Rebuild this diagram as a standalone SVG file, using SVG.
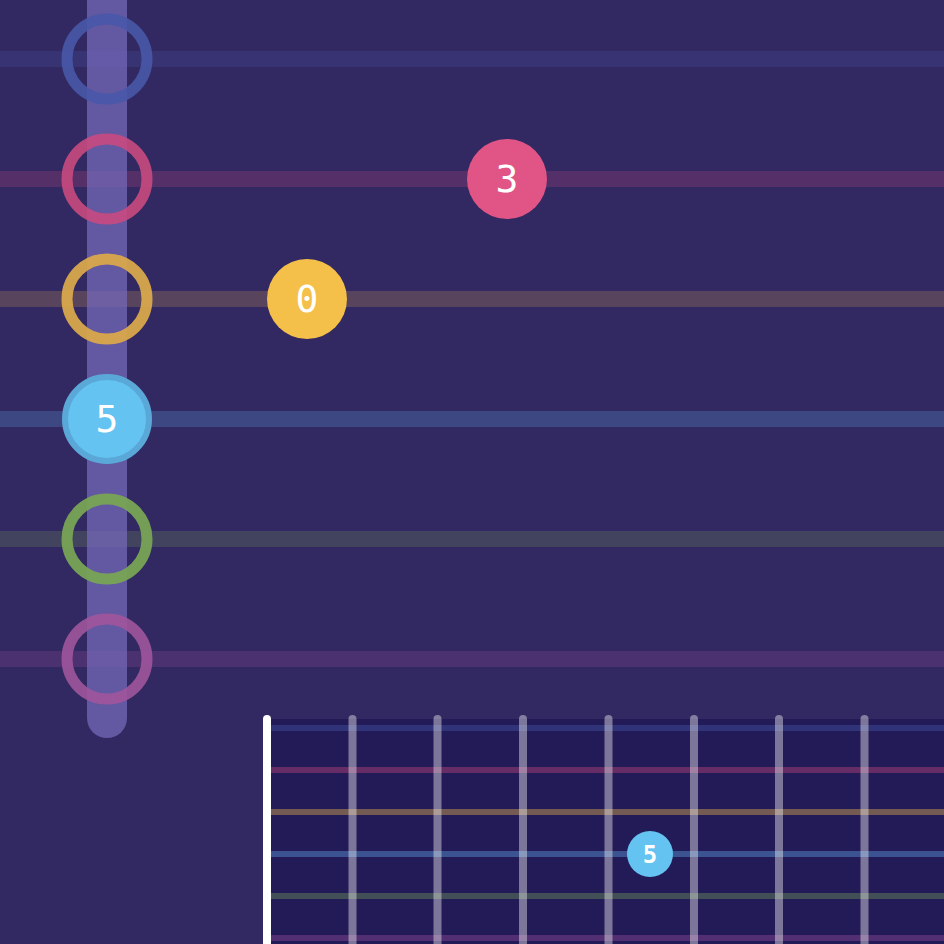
<svg xmlns="http://www.w3.org/2000/svg" width="944" height="944" viewBox="0 0 944 944">
<style>
.str{stroke-width:16;opacity:0.22}
.fstr{stroke-width:6;opacity:0.38}
.ring{fill:none;stroke-width:11}
.fret{stroke:#ffffff;stroke-opacity:0.4;stroke-width:8;stroke-linecap:round}
.lbl{font-family:"DejaVu Sans Mono","Liberation Mono",monospace;fill:#ffffff;text-anchor:middle;dominant-baseline:central}
</style>
<rect width="944" height="944" fill="#332962"/>
<g id="strings">
<line class="str" x1="0" y1="59" x2="944" y2="59" stroke="#4a5ab0"/>
<line class="str" x1="0" y1="179" x2="944" y2="179" stroke="#d04a80"/>
<line class="str" x1="0" y1="299" x2="944" y2="299" stroke="#f5c04a" style="opacity:0.19"/>
<line class="str" x1="0" y1="419" x2="944" y2="419" stroke="#64b0f0"/>
<line class="str" x1="0" y1="539" x2="944" y2="539" stroke="#78a455"/>
<line class="str" x1="0" y1="659" x2="944" y2="659" stroke="#a050a0"/>
</g>
<rect id="bar" x="87" y="-20" width="40" height="758" rx="20" fill="#7468b8" opacity="0.75"/>
<g id="ring-1"><circle class="ring" cx="107" cy="59" r="40" stroke="#4858a8" stroke-opacity="0.9"/></g>
<g id="ring-2"><circle class="ring" cx="107" cy="179" r="40" stroke="#c84a80" stroke-opacity="0.9"/></g>
<g id="ring-3"><circle class="ring" cx="107" cy="299" r="40" stroke="#d9a84c" stroke-opacity="0.95"/></g>
<g id="ring-4"><circle cx="107" cy="419" r="42" fill="#64c3f0" stroke="#5aa8d8" stroke-width="6"/><text class="lbl" x="107" y="419" font-size="38">5</text></g>
<g id="ring-5"><circle class="ring" cx="107" cy="539" r="40" stroke="#78a455" stroke-opacity="0.95"/></g>
<g id="ring-6"><circle class="ring" cx="107" cy="659" r="40" stroke="#a0559c" stroke-opacity="0.9"/></g>
<g id="note-0"><circle cx="307" cy="299" r="40" fill="#f5c04a"/><text class="lbl" x="307" y="299" font-size="38">0</text></g>
<g id="note-3"><circle cx="507" cy="179" r="40" fill="#e05585"/><text class="lbl" x="507" y="179" font-size="38">3</text></g>
<g id="fretboard">
<rect x="267" y="719" width="677" height="225" fill="#231b57"/>
<line class="fstr" x1="267" y1="728" x2="944" y2="728" stroke="#4a5ab0"/>
<line class="fstr" x1="267" y1="770" x2="944" y2="770" stroke="#d04a80"/>
<line class="fstr" x1="267" y1="812" x2="944" y2="812" stroke="#f5c04a"/>
<line class="fstr" x1="267" y1="854" x2="944" y2="854" stroke="#64b0f0"/>
<line class="fstr" x1="267" y1="896" x2="944" y2="896" stroke="#78a455"/>
<line class="fstr" x1="267" y1="938" x2="944" y2="938" stroke="#a050a0"/>
<line class="fret" x1="352.5" y1="719" x2="352.5" y2="960"/>
<line class="fret" x1="437.5" y1="719" x2="437.5" y2="960"/>
<line class="fret" x1="523" y1="719" x2="523" y2="960"/>
<line class="fret" x1="608.5" y1="719" x2="608.5" y2="960"/>
<line class="fret" x1="694" y1="719" x2="694" y2="960"/>
<line class="fret" x1="779" y1="719" x2="779" y2="960"/>
<line class="fret" x1="864.5" y1="719" x2="864.5" y2="960"/>
<line x1="267" y1="719" x2="267" y2="960" stroke="#ffffff" stroke-width="8" stroke-linecap="round"/>
</g>
<g id="fb-note-5"><circle cx="650" cy="854" r="23" fill="#64c3f0"/><text class="lbl" x="650" y="855" font-size="24" font-weight="bold">5</text></g>
</svg>
